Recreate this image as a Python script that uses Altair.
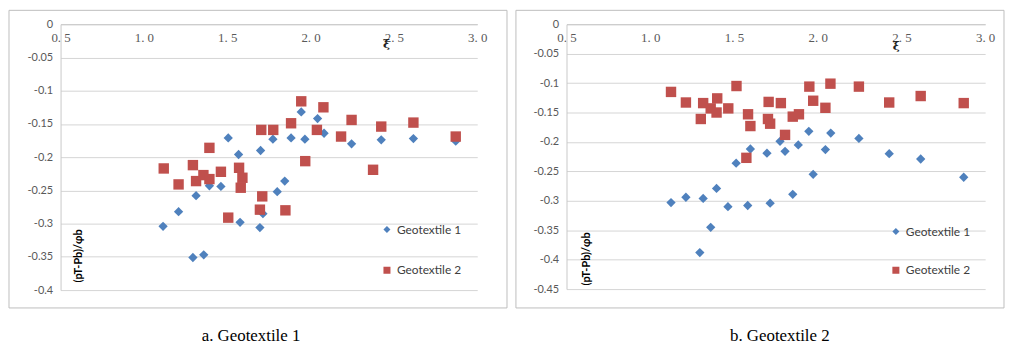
import altair as alt
import pandas as pd

SERIES = ["Geotextile 1", "Geotextile 2"]
COLORS = ["#4F81BD", "#C0504D"]
SHAPES = ["diamond", "square"]
SIZES = [88, 110]

X_TICKS = [0.5, 1.0, 1.5, 2.0, 2.5, 3.0]
Y_TICKS_A = [0, -0.05, -0.1, -0.15, -0.2, -0.25, -0.3, -0.35, -0.4]
Y_TICKS_B = [0, -0.05, -0.1, -0.15, -0.2, -0.25, -0.3, -0.35, -0.4, -0.45]

# Panel a: Geotextile 1 filter
a_g1_x = [1.115, 1.208, 1.313, 1.294, 1.359, 1.393, 1.462, 1.506, 1.568, 1.577, 1.700, 1.696, 1.714,
          1.774, 1.800, 1.845, 1.883, 1.944, 1.966, 2.042, 2.081, 2.246, 2.424, 2.617, 2.871]
a_g1_y = [-0.304, -0.282, -0.258, -0.351, -0.347, -0.243, -0.244, -0.171, -0.196, -0.298, -0.190, -0.306, -0.285,
          -0.173, -0.252, -0.236, -0.171, -0.132, -0.173, -0.142, -0.164, -0.180, -0.174, -0.172, -0.176]
a_g2_x = [1.119, 1.208, 1.294, 1.313, 1.357, 1.393, 1.393, 1.462, 1.506, 1.571, 1.591, 1.581, 1.704, 1.710,
          1.696, 1.776, 1.849, 1.883, 1.944, 1.968, 2.038, 2.077, 2.246, 2.183, 2.424, 2.375, 2.617, 2.871]
a_g2_y = [-0.217, -0.241, -0.212, -0.236, -0.227, -0.233, -0.186, -0.222, -0.291, -0.216, -0.231, -0.246, -0.159, -0.259,
          -0.279, -0.159, -0.280, -0.149, -0.116, -0.206, -0.159, -0.125, -0.144, -0.169, -0.154, -0.219, -0.148, -0.169]

# Panel b: Geotextile 2 filter
b_g1_x = [1.124, 1.213, 1.316, 1.296, 1.361, 1.396, 1.464, 1.513, 1.582, 1.598, 1.697, 1.716,
          1.775, 1.805, 1.851, 1.884, 1.947, 1.973, 2.046, 2.078, 2.246, 2.427, 2.615, 2.872]
b_g1_y = [-0.303, -0.294, -0.296, -0.388, -0.345, -0.279, -0.310, -0.236, -0.308, -0.212, -0.219, -0.304,
          -0.199, -0.216, -0.289, -0.205, -0.182, -0.255, -0.213, -0.185, -0.194, -0.220, -0.229, -0.260]
b_g2_x = [1.124, 1.213, 1.302, 1.316, 1.361, 1.400, 1.396, 1.466, 1.515, 1.584, 1.598, 1.574, 1.707, 1.703,
          1.716, 1.780, 1.805, 1.851, 1.888, 1.950, 1.973, 2.046, 2.076, 2.246, 2.427, 2.615, 2.872]
b_g2_y = [-0.115, -0.133, -0.161, -0.134, -0.143, -0.126, -0.150, -0.143, -0.105, -0.153, -0.173, -0.227, -0.132, -0.161,
          -0.169, -0.134, -0.188, -0.157, -0.153, -0.106, -0.130, -0.142, -0.101, -0.106, -0.133, -0.122, -0.134]

Y_TITLE = "(pT-Pb)/φb"
CAPTIONS = ["a. Geotextile 1", "b. Geotextile 2"]


def series_frame(xs, ys, name):
    return pd.DataFrame({"x": xs, "y": ys, "series": [name] * len(xs)})


def panel(d1, d2, yticks, ydom, w, h, leg_xy, row_pad, ytitle_xy, xtitle_xy, border, caption, cap_xy):
    leg = alt.Legend(orient="none", legendX=leg_xy[0], legendY=leg_xy[1], title=None,
                     labelFont="Lato", labelFontSize=12, labelColor="#404040",
                     rowPadding=row_pad, symbolSize=50, padding=0, labelOffset=4)
    enc = dict(
        x=alt.X("x:Q", scale=alt.Scale(domain=[0.5, 3.0], nice=False, zero=False),
                axis=alt.Axis(orient="bottom", offset=-h, values=X_TICKS,
                              labelExpr="replace(format(datum.value, '.1f'), '.', '. ')",
                              grid=False, ticks=False, tickSize=0, labelPadding=7,
                              labelFont="Liberation Serif", labelFontSize=13, labelColor="#595959",
                              labelFlush=False, domainColor="#C8C8C8",
                              title="ξ", titleX=xtitle_xy[0], titleY=xtitle_xy[1],
                              titleAlign="center", titleBaseline="middle",
                              titleFont="DejaVu Serif", titleFontSize=12, titleFontWeight="bold",
                              titleColor="#222222")),
        y=alt.Y("y:Q", scale=alt.Scale(domain=ydom, nice=False, zero=False),
                axis=alt.Axis(values=yticks, labelExpr="'' + datum.value",
                              grid=True, gridColor="#D4D4D4", domainColor="#C8C8C8",
                              ticks=False, tickSize=0, labelPadding=8,
                              labelFont="Lato", labelFontSize=11, labelColor="#595959",
                              labelFlush=False,
                              title=Y_TITLE, titleAngle=270, titleX=ytitle_xy[0], titleY=ytitle_xy[1],
                              titleAlign="center", titleBaseline="middle",
                              titleFont="Lato", titleFontSize=11, titleFontWeight="bold",
                              titleColor="#000000")),
        color=alt.Color("series:N", scale=alt.Scale(domain=SERIES, range=COLORS), legend=leg),
        shape=alt.Shape("series:N", scale=alt.Scale(domain=SERIES, range=SHAPES), legend=leg),
    )
    p1 = alt.Chart(d1).mark_point(filled=True, opacity=1, size=SIZES[0]).encode(**enc)
    p2 = alt.Chart(d2).mark_point(filled=True, opacity=1, size=SIZES[1]).encode(**enc)
    box = alt.Chart(alt.Data(values=[{"k": 1}])).mark_rect(
        fillOpacity=0, stroke="#BDBDBD", strokeWidth=1
    ).encode(x=alt.value(border[0]), x2=alt.value(border[1]),
             y=alt.value(border[2]), y2=alt.value(border[3]))
    cap = alt.Chart(alt.Data(values=[{"k": 1}])).mark_text(
        font="Liberation Serif", fontSize=17, color="#000000", align="center", baseline="middle"
    ).encode(x=alt.value(cap_xy[0]), y=alt.value(cap_xy[1]), text=alt.value(caption))
    return alt.layer(box, p1, p2, cap).properties(width=w, height=h)


pa = panel(series_frame(a_g1_x, a_g1_y, SERIES[0]), series_frame(a_g2_x, a_g2_y, SERIES[1]),
           Y_TICKS_A, [-0.4, 0], 420, 268,
           (323, 201), 29, (18, 233), (328, 19), (-52, 450, -14, 286), CAPTIONS[0], (192, 314))
pb = panel(series_frame(b_g1_x, b_g1_y, SERIES[0]), series_frame(b_g2_x, b_g2_y, SERIES[1]),
           Y_TICKS_B, [-0.45, 0], 422, 267,
           (326, 203), 27, (20, 236), (332, 21), (-51, 441, -14, 286), CAPTIONS[1], (215, 314))

chart = alt.hconcat(pa, pb, spacing=7).resolve_scale(
    color="independent", shape="independent"
).resolve_legend(
    color="independent", shape="independent"
).properties(padding=0).configure_view(strokeWidth=0)

chart.save("out.html", embed_options={"renderer": "svg", "actions": False})
